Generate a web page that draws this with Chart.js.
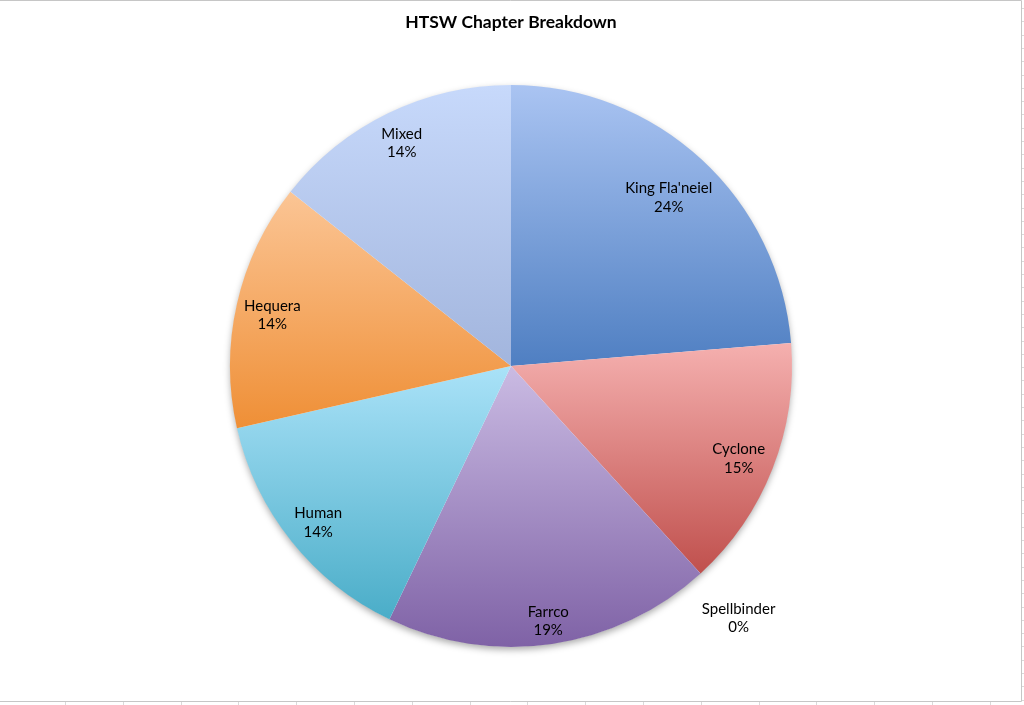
<!DOCTYPE html>
<html>
<head>
<meta charset="utf-8">
<title>HTSW Chapter Breakdown</title>
<script src="https://cdn.jsdelivr.net/npm/chart.js@4.4.1/dist/chart.umd.min.js"></script>
<style>
  html, body { margin: 0; padding: 0; background: #fff; }
  #wrap { width: 1024px; height: 705px; position: relative; }
</style>
</head>
<body>
<div id="wrap"><canvas id="pieChart"></canvas></div>
<script>
// 数据
const categories = ["King Fla'neiel", "Cyclone", "Spellbinder", "Farrco", "Human", "Hequera", "Mixed"];
const shares = [23.7, 14.52, 0, 18.9, 14.32, 14.2, 14.36];

// 渐变颜色（上浅下深）
const topColors = ['#AAC4F2', '#F5B0AF', '#E8A29F', '#CABBE3', '#AAE2F8', '#FBC595', '#C7D9FB'];
const bottomColors = ['#4F7FC2', '#C0504D', '#C0504D', '#7F62A6', '#4AADC8', '#EF8F36', '#A2B5DD'];

const FONT = 'Lato, "Open Sans", sans-serif';

// 每个扇形按自身上下范围做竖直渐变
function sliceGradient(ctx) {
    const chart = ctx.chart;
    const area = chart.chartArea;
    const i = ctx.dataIndex;
    if (!area) {
        return bottomColors[i];
    }
    const data = chart.data.datasets[0].data;
    const total = data.reduce((a, b) => a + b, 0);
    let before = 0;
    for (let k = 0; k < i; k++) before += data[k];
    const a0 = -Math.PI / 2 + before / total * Math.PI * 2;
    const a1 = a0 + data[i] / total * Math.PI * 2;
    const cy = (area.top + area.bottom) / 2;
    const r = Math.min(area.width, area.height) / 2;
    const ys = [cy, cy + r * Math.sin(a0), cy + r * Math.sin(a1)];
    [-Math.PI / 2, Math.PI / 2, Math.PI * 1.5].forEach(t => {
        if (t >= a0 - 1e-9 && t <= a1 + 1e-9) ys.push(cy + r * Math.sin(t));
    });
    const y0 = Math.min(...ys);
    const y1 = Math.max(...ys);
    const g = chart.ctx.createLinearGradient(0, y0, 0, Math.max(y1, y0 + 1));
    g.addColorStop(0, topColors[i]);
    g.addColorStop(1, bottomColors[i]);
    return g;
}

// 背景、边框和表格线
const framePlugin = {
    id: 'frame',
    beforeDraw(chart) {
        const c = chart.ctx;
        const w = chart.width, h = chart.height;
        c.save();
        c.fillStyle = '#fff';
        c.fillRect(0, 0, w, h);
        c.strokeStyle = '#DADADA';
        c.lineWidth = 1;
        c.beginPath();
        for (let x = 65; x < w; x += 57.8) {
            c.moveTo(Math.round(x) + 0.5, 702);
            c.lineTo(Math.round(x) + 0.5, h);
        }
        for (let y = 8; y < 702; y += 13.3) {
            c.moveTo(1022, Math.round(y) + 0.5);
            c.lineTo(w, Math.round(y) + 0.5);
        }
        c.stroke();
        c.strokeStyle = '#C6C6C6';
        c.beginPath();
        c.moveTo(0, 0.5);
        c.lineTo(1021.5, 0.5);
        c.lineTo(1021.5, 701.5);
        c.lineTo(0, 701.5);
        c.stroke();
        c.restore();
    }
};

// 饼图阴影
const shadowPlugin = {
    id: 'pieShadow',
    beforeDatasetsDraw(chart) {
        const arc = chart.getDatasetMeta(0).data[0];
        if (!arc) return;
        const p = arc.getProps(['x', 'y', 'outerRadius'], true);
        const c = chart.ctx;
        c.save();
        c.shadowColor = 'rgba(0,0,0,0.35)';
        c.shadowBlur = 7;
        c.shadowOffsetY = 3;
        c.fillStyle = '#fff';
        c.beginPath();
        c.arc(p.x, p.y, p.outerRadius - 0.5, 0, Math.PI * 2);
        c.fill();
        c.restore();
    }
};

// 数据标签：名称 + 百分比
const labelPlugin = {
    id: 'sliceLabels',
    afterDatasetsDraw(chart) {
        const meta = chart.getDatasetMeta(0);
        const data = chart.data.datasets[0].data;
        const total = data.reduce((a, b) => a + b, 0);
        const c = chart.ctx;
        const lineH = 18.5;
        c.save();
        c.font = '15px ' + FONT;
        c.fillStyle = '#000';
        c.textAlign = 'center';
        c.textBaseline = 'middle';
        meta.data.forEach((arc, i) => {
            const p = arc.getProps(['x', 'y', 'startAngle', 'endAngle', 'outerRadius'], true);
            const mid = (p.startAngle + p.endAngle) / 2;
            const R = p.outerRadius;
            const pct = Math.round(data[i] / total * 100) + '%';
            const w = Math.max(c.measureText(categories[i]).width, c.measureText(pct).width);
            const h = lineH * 2;
            const cos = Math.cos(mid), sin = Math.sin(mid);
            let r;
            if (data[i] / total < 0.02) {
                // 太小的扇形把标签放在外面
                r = R + 18 + Math.abs(cos) * w / 2 + Math.abs(sin) * h / 2;
            } else {
                r = R * 0.91;
                const fits = rr => {
                    const lx = p.x + rr * cos, ly = p.y + rr * sin;
                    return [[-1, -1], [1, -1], [-1, 1], [1, 1]].every(([sx, sy]) => {
                        const dx = lx + sx * w / 2 - p.x, dy = ly + sy * h / 2 - p.y;
                        return Math.hypot(dx, dy) <= R - 4;
                    });
                };
                while (r > R * 0.5 && !fits(r)) r -= 1;
            }
            const lx = p.x + r * cos;
            const ly = p.y + r * sin + 3;
            c.fillText(categories[i], lx, ly - lineH / 2);
            c.fillText(pct, lx, ly + lineH / 2);
        });
        c.restore();
    }
};

const pieChart = new Chart(document.getElementById('pieChart').getContext('2d'), {
    type: 'pie',
    data: {
        labels: categories,
        datasets: [{
            data: shares,
            backgroundColor: sliceGradient,
            borderWidth: 0,
            hoverOffset: 0
        }]
    },
    options: {
        responsive: true,
        maintainAspectRatio: false,
        animation: false,
        layout: {
            padding: { top: 0, left: 230, right: 232, bottom: 58 }
        },
        plugins: {
            legend: { display: false },
            tooltip: { enabled: false },
            title: {
                display: true,
                text: 'HTSW Chapter Breakdown',
                color: '#000',
                font: { family: FONT, size: 17.5, weight: 'bold' },
                padding: { top: 12, bottom: 52 }
            }
        }
    },
    plugins: [framePlugin, shadowPlugin, labelPlugin]
});
</script>
</body>
</html>
